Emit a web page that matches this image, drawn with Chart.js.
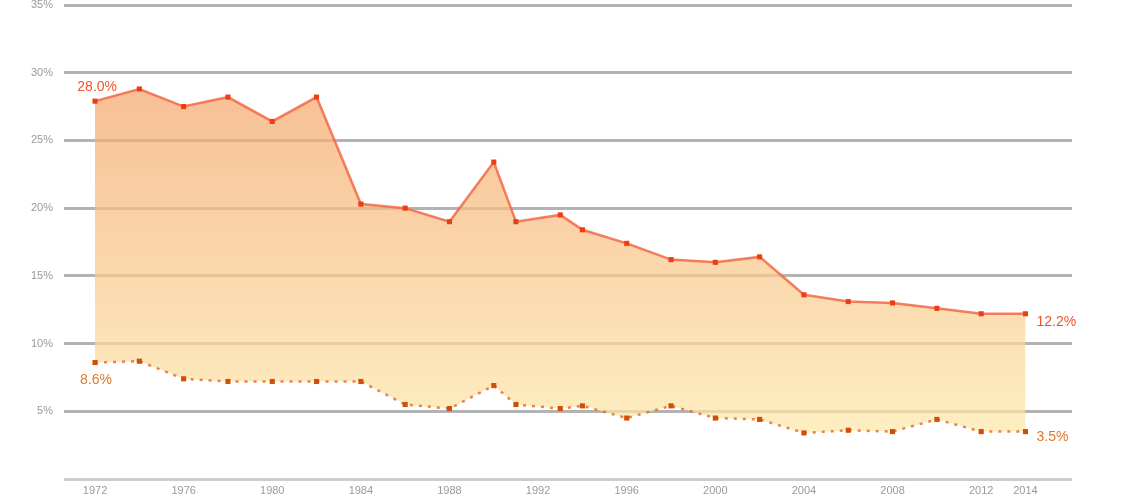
<!DOCTYPE html>
<html>
<head>
<meta charset="utf-8">
<script src="https://cdn.jsdelivr.net/npm/chart.js@4/dist/chart.umd.min.js"></script>
<style>
    html, body { margin: 0; padding: 0; background: #fff; }
    #wrap { width: 1140px; height: 500px; }
</style>
</head>
<body>
<div id="wrap"><canvas id="rateChart"></canvas></div>
<script>
const years = [1972, 1974, 1976, 1978, 1980, 1982, 1984, 1986, 1988, 1990, 1991, 1993, 1994,
    1996, 1998, 2000, 2002, 2004, 2006, 2008, 2010, 2012, 2014];
const upperRate = [27.9, 28.8, 27.5, 28.2, 26.4, 28.2, 20.3, 20.0, 19.0, 23.4, 19.0, 19.5, 18.4,
    17.4, 16.2, 16.0, 16.4, 13.6, 13.1, 13.0, 12.6, 12.2, 12.2];
const lowerRate = [8.6, 8.7, 7.4, 7.2, 7.2, 7.2, 7.2, 5.5, 5.2, 6.9, 5.5, 5.2, 5.4,
    4.5, 5.4, 4.5, 4.4, 3.4, 3.6, 3.5, 4.4, 3.5, 3.5];
const xTicks = [1972, 1976, 1980, 1984, 1988, 1992, 1996, 2000, 2004, 2008, 2012, 2014];
const yTicks = [0, 5, 10, 15, 20, 25, 30, 35];
const upperLabels = ["28.0%", "12.2%"];
const lowerLabels = ["8.6%", "3.5%"];

const FONT = '"Liberation Sans", Arial, sans-serif';

// first / last value labels next to the lines
const endLabels = {
    id: "endLabels",
    afterDatasetsDraw(chart) {
        const ctx = chart.ctx;
        const xs = chart.scales.x, ys = chart.scales.y;
        const first = 0, last = years.length - 1;
        ctx.save();
        ctx.font = "14px " + FONT;
        ctx.textBaseline = "middle";

        ctx.fillStyle = "#f0532b";
        ctx.textAlign = "right";
        ctx.fillText(upperLabels[0], xs.getPixelForValue(years[first]) + 22, ys.getPixelForValue(upperRate[first]) - 14);
        ctx.textAlign = "left";
        ctx.fillText(upperLabels[1], xs.getPixelForValue(years[last]) + 11, ys.getPixelForValue(upperRate[last]) + 8);

        ctx.fillStyle = "#e0782c";
        ctx.textAlign = "right";
        ctx.fillText(lowerLabels[0], xs.getPixelForValue(years[first]) + 17, ys.getPixelForValue(lowerRate[first]) + 18);
        ctx.textAlign = "left";
        ctx.fillText(lowerLabels[1], xs.getPixelForValue(years[last]) + 11, ys.getPixelForValue(lowerRate[last]) + 6);
        ctx.restore();
    }
};

function areaGradient(context) {
    const area = context.chart.chartArea;
    if (!area) return "rgba(247,185,140,0.8)";
    const g = context.chart.ctx.createLinearGradient(0, area.top + 90, 0, area.top + 430);
    g.addColorStop(0, "rgba(245,168,110,0.72)");
    g.addColorStop(1, "rgba(253,232,170,0.72)");
    return g;
}

const ctx = document.getElementById("rateChart").getContext("2d");
new Chart(ctx, {
    type: "line",
    data: {
        datasets: [
            {
                label: "upper",
                data: years.map((yr, i) => ({ x: yr, y: upperRate[i] })),
                borderColor: "rgba(242,105,70,0.85)",
                borderWidth: 2.5,
                backgroundColor: areaGradient,
                fill: "+1",
                pointStyle: "rect",
                pointRadius: 3.6,
                pointBackgroundColor: "#ee3d12",
                pointBorderWidth: 0,
                tension: 0
            },
            {
                label: "lower",
                data: years.map((yr, i) => ({ x: yr, y: lowerRate[i] })),
                borderColor: "rgba(222,105,35,0.8)",
                borderWidth: 2.5,
                borderDash: [3, 6],
                fill: false,
                pointStyle: "rect",
                pointRadius: 3.6,
                pointBackgroundColor: "#d24d05",
                pointBorderWidth: 0,
                tension: 0
            }
        ]
    },
    options: {
        responsive: true,
        maintainAspectRatio: false,
        animation: false,
        layout: { padding: { top: 5, right: 68, left: 0, bottom: 0 } },
        plugins: {
            legend: { display: false },
            tooltip: { enabled: false },
            filler: { drawTime: "beforeDatasetsDraw" }
        },
        scales: {
            x: {
                type: "linear",
                min: 1970.6,
                max: 2016.1,
                afterBuildTicks: scale => { scale.ticks = xTicks.map(v => ({ value: v })); },
                afterFit: scale => { scale.height = 21; scale.paddingLeft = 0; scale.paddingRight = 0; },
                grid: { display: false, drawTicks: false },
                border: { display: false },
                ticks: {
                    color: "#9a9a9a",
                    font: { family: FONT, size: 11 },
                    padding: 5,
                    maxRotation: 0,
                    autoSkip: false,
                    callback: v => String(v)
                }
            },
            y: {
                min: 0,
                max: 35,
                afterBuildTicks: scale => { scale.ticks = yTicks.map(v => ({ value: v })); },
                afterFit: scale => { scale.width = 64; scale.paddingTop = 0; scale.paddingBottom = 0; },
                grid: {
                    color: c => c.tick && c.tick.value === 0 ? "#cdcdcd" : "#b3b3b3",
                    lineWidth: 3,
                    drawTicks: false
                },
                border: { display: false },
                ticks: {
                    color: "#9a9a9a",
                    font: { family: FONT, size: 11 },
                    padding: 11,
                    callback: v => v === 0 ? "" : v + "%"
                }
            }
        }
    },
    plugins: [endLabels]
});
</script>
</body>
</html>
